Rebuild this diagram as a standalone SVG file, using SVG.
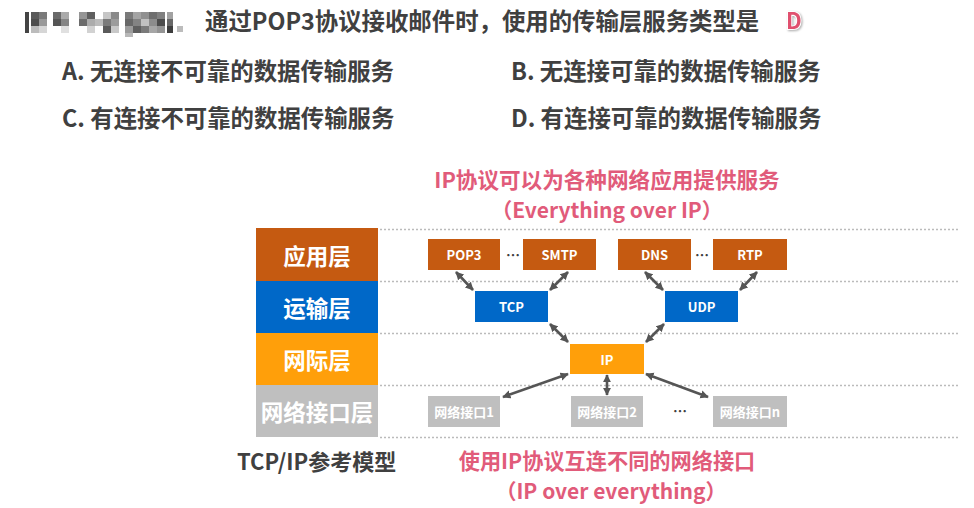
<svg xmlns="http://www.w3.org/2000/svg" width="974" height="508" viewBox="0 0 974 508">
<style>
text{font-family:"Noto Sans CJK SC","Noto Sans",sans-serif;font-weight:bold}
.q{font-size:23.4px;fill:#404040}
.pink{fill:#E15B7A}
.layer{font-size:22.5px;fill:#fff;text-anchor:middle;dominant-baseline:central}
.lbl{font-size:13px;fill:#fff;text-anchor:middle;dominant-baseline:central}
.dots{font-size:14px;fill:#404040;text-anchor:middle;dominant-baseline:central}
.dash{stroke:#BBBBBB;stroke-width:1.3;stroke-dasharray:2 2;fill:none}
.app{fill:#C55A11}
.tr{fill:#0068C8}
.net{fill:#FF9F0A}
.lk{fill:#BFBFBF}
.arr{stroke:#555;stroke-width:2.6;fill:none;marker-start:url(#ah);marker-end:url(#ah)}
</style>
<defs>
<marker id="ah" viewBox="0 0 10 10" refX="9" refY="5" markerWidth="3.2" markerHeight="3.4" orient="auto-start-reverse" markerUnits="strokeWidth">
<path d="M0,0 L10,5 L0,10 z" fill="#555"/>
</marker>
</defs>
<rect width="974" height="508" fill="#fff"/>
<g id="mosaic">
<rect x="25" y="12" width="4" height="21" fill="#444"/>
<rect x="31" y="12" width="8" height="7" fill="#5a5a5a"/><rect x="31" y="19" width="8" height="7" fill="#4e4e4e"/><rect x="31" y="26" width="8" height="7" fill="#bcbcbc"/>
<rect x="39" y="12" width="8" height="7" fill="#7a7a7a"/><rect x="39" y="19" width="8" height="7" fill="#999"/><rect x="39" y="26" width="8" height="7" fill="#d6d6d6"/>
<rect x="53" y="12" width="8" height="7" fill="#6a6a6a"/><rect x="53" y="19" width="8" height="7" fill="#555"/><rect x="61" y="12" width="8" height="7" fill="#aaa"/><rect x="61" y="19" width="8" height="7" fill="#858585"/><rect x="61" y="26" width="8" height="7" fill="#e0e0e0"/>
<rect x="79" y="12" width="8" height="7" fill="#959595"/><rect x="79" y="19" width="8" height="7" fill="#6c6c6c"/><rect x="87" y="12" width="8" height="7" fill="#5f5f5f"/><rect x="87" y="19" width="8" height="7" fill="#acacac"/><rect x="87" y="26" width="8" height="7" fill="#d2d2d2"/>
<rect x="95" y="19" width="8" height="7" fill="#bcbcbc"/><rect x="103" y="12" width="8" height="7" fill="#c6c6c6"/><rect x="103" y="19" width="8" height="7" fill="#7b7b7b"/><rect x="103" y="26" width="8" height="7" fill="#5a5a5a"/>
<rect x="111" y="12" width="8" height="7" fill="#8a8a8a"/><rect x="111" y="19" width="8" height="7" fill="#9c9c9c"/><rect x="111" y="26" width="8" height="7" fill="#c8c8c8"/>
<rect x="125" y="12" width="8" height="7" fill="#7a7a7a"/><rect x="125" y="19" width="8" height="7" fill="#686868"/><rect x="125" y="26" width="8" height="7" fill="#9c9c9c"/><rect x="125" y="33" width="8" height="4" fill="#b8b8b8"/>
<rect x="133" y="12" width="8" height="7" fill="#a4a4a4"/><rect x="133" y="19" width="8" height="7" fill="#838383"/><rect x="133" y="26" width="8" height="7" fill="#5f5f5f"/>
<rect x="141" y="12" width="8" height="7" fill="#909090"/><rect x="141" y="19" width="8" height="7" fill="#c0c0c0"/><rect x="141" y="26" width="8" height="7" fill="#7a7a7a"/>
<rect x="149" y="12" width="8" height="7" fill="#6e6e6e"/><rect x="149" y="19" width="8" height="7" fill="#8c8c8c"/><rect x="149" y="26" width="8" height="7" fill="#a6a6a6"/>
<rect x="157" y="12" width="8" height="7" fill="#808080"/><rect x="157" y="19" width="8" height="7" fill="#4c4c4c"/><rect x="157" y="26" width="8" height="7" fill="#949494"/>
<rect x="167" y="12" width="6" height="7" fill="#a2a2a2"/><rect x="167" y="19" width="6" height="7" fill="#686868"/><rect x="167" y="26" width="6" height="7" fill="#3e3e3e"/>
<rect x="177" y="26" width="6" height="6" fill="#bcbcbc"/>
</g>
<g id="question">
<text class="q" x="205" y="30" font-size="24">通过POP3协议接收邮件时，使用的传输层服务类型是</text>
<text x="786" y="29" font-size="22" font-weight="900" fill="#E0506E" stroke="#fff" stroke-width="2" paint-order="stroke" style="filter:drop-shadow(1px 1px 1px #aaa)">D</text>
<text class="q" x="62" y="80">A. 无连接不可靠的数据传输服务</text>
<text class="q" x="511" y="80">B. 无连接可靠的数据传输服务</text>
<text class="q" x="62" y="127">C. 有连接不可靠的数据传输服务</text>
<text class="q" x="511" y="127">D. 有连接可靠的数据传输服务</text>
</g>
<g id="captions">
<text class="pink" x="607" y="188" font-size="21.6" text-anchor="middle">IP协议可以为各种网络应用提供服务</text>
<text class="pink" x="607" y="218" font-size="21" text-anchor="middle">（Everything over IP）</text>
<text x="237" y="470" font-size="22" fill="#404040">TCP/IP参考模型</text>
<text class="pink" x="607" y="469" font-size="21.2" text-anchor="middle">使用IP协议互连不同的网络接口</text>
<text class="pink" x="611" y="499" font-size="21" text-anchor="middle">（IP over everything）</text>
</g>
<g id="gridlines">
<line class="dash" x1="380" y1="229.5" x2="960" y2="229.5"/>
<line class="dash" x1="380" y1="281.5" x2="960" y2="281.5"/>
<line class="dash" x1="380" y1="333.5" x2="960" y2="333.5"/>
<line class="dash" x1="380" y1="385.5" x2="960" y2="385.5"/>
<line class="dash" x1="380" y1="437.5" x2="960" y2="437.5"/>
</g>
<g id="layer-app"><rect class="app" x="256" y="228" width="122" height="53"/><text class="layer" x="317" y="255">应用层</text></g>
<g id="layer-transport"><rect class="tr" x="256" y="281" width="122" height="52"/><text class="layer" x="317" y="307">运输层</text></g>
<g id="layer-internet"><rect class="net" x="256" y="333" width="122" height="52"/><text class="layer" x="317" y="359">网际层</text></g>
<g id="layer-link"><rect class="lk" x="256" y="385" width="122" height="52"/><text class="layer" x="317" y="411">网络接口层</text></g>
<g id="connectors">
<line class="arr" x1="456" y1="272" x2="473" y2="290"/>
<line class="arr" x1="568" y1="272" x2="550" y2="290"/>
<line class="arr" x1="645" y1="272" x2="663" y2="290"/>
<line class="arr" x1="757" y1="272" x2="740" y2="290"/>
<line class="arr" x1="550" y1="324" x2="568" y2="342"/>
<line class="arr" x1="664" y1="324" x2="646" y2="342"/>
<line class="arr" x1="568" y1="374" x2="503" y2="397"/>
<line class="arr" x1="607" y1="375" x2="607" y2="395"/>
<line class="arr" x1="646" y1="374" x2="708" y2="397"/>
</g>
<g id="pop3"><rect class="app" x="428" y="239" width="72" height="31"/><text class="lbl" x="464" y="254.5">POP3</text></g>
<g id="dots1"><text class="dots" x="513" y="254">…</text></g>
<g id="smtp"><rect class="app" x="523" y="239" width="73" height="31"/><text class="lbl" x="559.5" y="254.5">SMTP</text></g>
<g id="dns"><rect class="app" x="618" y="239" width="73" height="31"/><text class="lbl" x="654.5" y="254.5">DNS</text></g>
<g id="dots2"><text class="dots" x="702" y="254">…</text></g>
<g id="rtp"><rect class="app" x="713" y="239" width="74" height="31"/><text class="lbl" x="750" y="254.5">RTP</text></g>
<g id="tcp"><rect class="tr" x="475" y="291" width="73" height="31"/><text class="lbl" x="511.5" y="306.5">TCP</text></g>
<g id="udp"><rect class="tr" x="665" y="291" width="73" height="31"/><text class="lbl" x="701.5" y="306.5">UDP</text></g>
<g id="ip"><rect class="net" x="570" y="344" width="74" height="30"/><text class="lbl" x="607" y="359">IP</text></g>
<g id="if1"><rect class="lk" x="428" y="396" width="72" height="31"/><text class="lbl" x="464" y="411.5">网络接口1</text></g>
<g id="if2"><rect class="lk" x="571" y="396" width="72" height="31"/><text class="lbl" x="607" y="411.5">网络接口2</text></g>
<g id="dots3"><text class="dots" x="680" y="410" font-size="16">…</text></g>
<g id="ifn"><rect class="lk" x="713" y="396" width="74" height="31"/><text class="lbl" x="750" y="411.5">网络接口n</text></g>
</svg>
